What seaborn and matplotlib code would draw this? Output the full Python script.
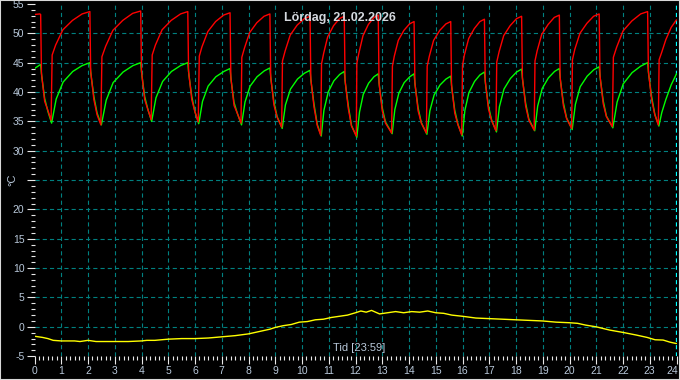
import matplotlib
matplotlib.use("Agg")
import matplotlib.pyplot as plt
import seaborn as sns
import pandas as pd
from matplotlib.ticker import MultipleLocator, FixedLocator
from matplotlib.patches import Rectangle
from matplotlib.transforms import ScaledTranslation

# ---------------- data ----------------
title_text = "Lördag, 21.02.2026"
x_label_text = "Tid [23:59]"
y_label_text = "°C"
now_hour = 23 + 59 / 60

x_ticks = list(range(0, 25))
y_ticks = list(range(-5, 56, 5))
# the 25 label is replaced by the unit label in the reference
y_tick_labels = ["-5", "0", "5", "10", "15", "20", "", "30", "35", "40", "45", "50", "55"]

# supply (red) temperature: (hour, °C)
red_points = [
    (0.00, 53.2), (0.20, 53.3),
    (0.23, 53.2), (0.26, 43.2), (0.38, 38.4), (0.50, 36.9), (0.62, 35.2),
    (0.66, 46.3), (0.79, 48.0), (1.06, 50.6), (1.42, 52.2), (1.78, 53.3),
    (2.07, 53.7), (2.10, 43.5), (2.22, 38.7), (2.34, 36.1), (2.48, 34.4),
    (2.52, 46.0), (2.66, 47.8), (2.93, 50.5), (3.30, 52.2), (3.67, 53.4),
    (3.97, 53.8), (4.00, 43.5), (4.12, 38.7), (4.24, 37.0), (4.36, 35.3),
    (4.40, 46.3), (4.52, 48.0), (4.77, 50.6), (5.11, 52.2), (5.46, 53.3),
    (5.73, 53.7), (5.76, 43.5), (5.88, 38.7), (6.00, 36.6), (6.12, 34.9),
    (6.16, 46.1), (6.26, 47.7), (6.48, 50.3), (6.77, 52.0), (7.07, 53.1),
    (7.31, 53.5), (7.34, 42.5), (7.46, 37.7), (7.58, 36.4), (7.72, 34.7),
    (7.75, 45.9), (7.85, 47.5), (8.04, 50.1), (8.31, 51.8), (8.58, 52.9),
    (8.80, 53.3), (8.83, 42.6), (8.95, 37.8), (9.07, 35.7), (9.24, 34.0),
    (9.27, 45.3), (9.37, 47.0), (9.56, 49.7), (9.82, 51.4), (10.09, 52.5),
    (10.30, 52.9), (10.33, 42.2), (10.45, 37.4), (10.57, 34.3), (10.70, 32.6),
    (10.73, 44.8), (10.81, 46.6), (10.96, 49.4), (11.18, 51.3), (11.40, 52.5),
    (11.58, 52.9), (11.61, 42.0), (11.73, 37.2), (11.85, 34.2), (12.03, 32.5),
    (12.05, 44.9), (12.13, 46.7), (12.28, 49.6), (12.48, 51.5), (12.69, 52.7),
    (12.85, 53.1), (12.88, 41.6), (13.00, 36.8), (13.12, 34.7), (13.35, 33.0),
    (13.38, 44.4), (13.45, 46.1), (13.60, 48.8), (13.81, 50.5), (14.02, 51.6),
    (14.19, 52.0), (14.22, 41.6), (14.34, 36.8), (14.46, 34.7), (14.65, 33.0),
    (14.68, 44.4), (14.76, 46.1), (14.92, 48.8), (15.15, 50.5), (15.38, 51.6),
    (15.56, 52.0), (15.59, 41.2), (15.71, 36.4), (15.83, 34.4), (15.97, 32.7),
    (16.00, 44.5), (16.07, 46.3), (16.23, 49.1), (16.44, 50.8), (16.65, 52.0),
    (16.82, 52.4), (16.85, 41.9), (16.97, 37.1), (17.09, 35.1), (17.25, 33.4),
    (17.28, 45.1), (17.37, 46.9), (17.54, 49.6), (17.78, 51.3), (18.02, 52.5),
    (18.21, 52.9), (18.24, 42.4), (18.36, 37.6), (18.48, 35.2), (18.68, 33.5),
    (18.71, 45.3), (18.79, 47.0), (18.96, 49.8), (19.20, 51.5), (19.43, 52.7),
    (19.62, 53.1), (19.65, 42.5), (19.77, 37.7), (19.89, 35.5), (20.08, 33.8),
    (20.11, 45.5), (20.20, 47.3), (20.39, 50.0), (20.65, 51.7), (20.90, 52.9),
    (21.11, 53.3), (21.14, 42.8), (21.26, 38.0), (21.38, 35.8), (21.60, 34.1),
    (21.64, 45.9), (21.76, 47.6), (22.00, 50.4), (22.33, 52.1), (22.66, 53.3),
    (22.92, 53.7), (22.95, 43.5), (23.07, 38.7), (23.19, 36.1), (23.32, 34.4),
    (23.35, 45.5), (23.45, 46.8), (23.60, 48.9), (23.80, 51.0), (24.00, 52.3),
]

# return (green) temperature: (hour, °C)
green_points = [
    (0.00, 44.0), (0.10, 44.3), (0.20, 44.6),
    (0.23, 44.7), (0.27, 42.7), (0.38, 38.9), (0.50, 36.7), (0.64, 34.7),
    (0.81, 38.8), (1.07, 41.7), (1.43, 43.5), (1.78, 44.5),
    (2.07, 45.0), (2.11, 43.0), (2.22, 39.2), (2.34, 36.4), (2.50, 34.4),
    (2.68, 38.6), (2.94, 41.6), (3.31, 43.4), (3.68, 44.5),
    (3.97, 45.0), (4.01, 43.0), (4.12, 39.2), (4.24, 37.0), (4.38, 35.0),
    (4.54, 39.0), (4.79, 41.8), (5.12, 43.5), (5.46, 44.5),
    (5.73, 45.0), (5.77, 43.0), (5.88, 39.2), (6.00, 36.6), (6.14, 34.6),
    (6.28, 38.4), (6.49, 41.0), (6.78, 42.6), (7.08, 43.5),
    (7.31, 44.0), (7.35, 42.0), (7.46, 38.2), (7.58, 36.4), (7.74, 34.4),
    (7.87, 38.3), (8.06, 41.0), (8.32, 42.6), (8.59, 43.6),
    (8.80, 44.1), (8.84, 42.1), (8.95, 38.3), (9.07, 35.8), (9.26, 33.8),
    (9.38, 37.8), (9.57, 40.5), (9.83, 42.2), (10.09, 43.2),
    (10.30, 43.7), (10.34, 41.7), (10.45, 37.9), (10.57, 34.5), (10.72, 32.5),
    (10.82, 36.9), (10.98, 40.0), (11.19, 41.9), (11.41, 43.0),
    (11.58, 43.5), (11.62, 41.5), (11.73, 37.7), (11.85, 34.3), (12.05, 32.3),
    (12.15, 36.6), (12.29, 39.6), (12.49, 41.5), (12.69, 42.6),
    (12.85, 43.1), (12.89, 41.1), (13.00, 37.3), (13.12, 34.9), (13.37, 32.9),
    (13.47, 37.0), (13.62, 39.8), (13.82, 41.6), (14.03, 42.6),
    (14.19, 43.1), (14.23, 41.1), (14.34, 37.3), (14.46, 34.8), (14.67, 32.8),
    (14.78, 36.8), (14.94, 39.5), (15.16, 41.2), (15.38, 42.2),
    (15.56, 42.7), (15.60, 40.7), (15.71, 36.9), (15.83, 34.5), (15.99, 32.5),
    (16.09, 36.9), (16.24, 39.9), (16.45, 41.8), (16.65, 42.9),
    (16.82, 43.4), (16.86, 41.4), (16.97, 37.6), (17.09, 35.2), (17.27, 33.2),
    (17.38, 37.5), (17.55, 40.5), (17.79, 42.3), (18.02, 43.4),
    (18.21, 43.9), (18.25, 41.9), (18.36, 38.1), (18.48, 35.4), (18.70, 33.4),
    (18.81, 37.6), (18.98, 40.6), (19.21, 42.4), (19.44, 43.5),
    (19.62, 44.0), (19.66, 42.0), (19.77, 38.2), (19.89, 35.6), (20.10, 33.6),
    (20.22, 37.9), (20.40, 40.9), (20.66, 42.7), (20.91, 43.8),
    (21.11, 44.3), (21.15, 42.3), (21.26, 38.5), (21.38, 35.9), (21.62, 33.9),
    (21.78, 38.3), (22.01, 41.4), (22.34, 43.3), (22.66, 44.4),
    (22.92, 45.0), (22.96, 43.0), (23.07, 39.2), (23.19, 36.2), (23.34, 34.2),
    (23.45, 36.5), (23.60, 38.7), (23.80, 41.2), (24.00, 43.1),
]

# outdoor (yellow) temperature: (hour, °C)
outdoor_points = [
    (0.0, -1.6), (0.3, -1.8), (0.5, -2.0), (0.7, -2.3), (1.0, -2.4),
    (1.5, -2.4), (1.7, -2.5), (2.0, -2.3), (2.3, -2.5), (3.0, -2.5),
    (3.5, -2.5), (4.0, -2.4), (4.2, -2.3), (4.5, -2.3), (5.0, -2.1),
    (5.5, -2.0), (6.0, -2.0), (6.5, -1.9), (7.0, -1.7), (7.5, -1.5),
    (8.0, -1.2), (8.5, -0.7), (8.8, -0.4), (9.0, -0.1), (9.3, 0.2),
    (9.6, 0.4), (9.9, 0.8), (10.2, 0.9), (10.5, 1.2), (10.8, 1.3),
    (11.1, 1.6), (11.4, 1.8), (11.7, 2.0), (12.0, 2.4), (12.2, 2.7),
    (12.4, 2.5), (12.6, 2.8), (12.9, 2.2), (13.2, 2.4), (13.5, 2.6),
    (13.8, 2.4), (14.1, 2.6), (14.4, 2.5), (14.7, 2.7), (15.0, 2.4),
    (15.3, 2.3), (15.6, 2.0), (16.0, 1.8), (16.5, 1.5), (17.0, 1.4),
    (17.5, 1.3), (18.0, 1.2), (18.5, 1.1), (19.0, 1.0), (19.5, 0.8),
    (20.0, 0.7), (20.3, 0.6), (20.6, 0.3), (21.0, 0.0), (21.5, -0.55),
    (22.0, -0.95), (22.5, -1.4), (22.9, -1.8), (23.2, -2.2), (23.5, -2.25),
    (23.75, -2.6), (24.0, -2.85),
]

# ---------------- styling ----------------
sns.set_style("dark", {"axes.facecolor": "black", "figure.facecolor": "black"})
plt.rcParams["font.family"] = ["Liberation Sans", "DejaVu Sans"]
plt.rcParams["lines.scale_dashes"] = False

label_color = "#b8c8da"
grid_color = "#008080"

fig = plt.figure(figsize=(6.8, 3.8), dpi=100, facecolor="black")
ax = fig.add_axes([34.5 / 680, (380 - 356.2) / 380, 642 / 680, 352.25 / 380])
ax.set_facecolor("black")

# grid (interior lines only)
for v in y_ticks[1:-1]:
    ax.axhline(v, color=grid_color, lw=0.8, ls=(0, (3.0, 2.2)), zorder=0)
for h in x_ticks[1:-1]:
    ax.axvline(h, color=grid_color, lw=0.8, ls=(0, (3.0, 2.2)), zorder=0)
ax.axvline(now_hour, color="#00ffff", lw=0.9, ls=(0, (3.0, 2.2)), zorder=1)

df_red = pd.DataFrame(red_points, columns=["hour", "temp"])
df_green = pd.DataFrame(green_points, columns=["hour", "temp"])
df_out = pd.DataFrame(outdoor_points, columns=["hour", "temp"])

sns.lineplot(data=df_green, x="hour", y="temp", color="#00ff00", lw=1.0,
             estimator=None, sort=False, ax=ax, zorder=3)
sns.lineplot(data=df_red, x="hour", y="temp", color="#ff0000", lw=1.0,
             estimator=None, sort=False, ax=ax, zorder=4)
sns.lineplot(data=df_out, x="hour", y="temp", color="#ffff00", lw=1.0,
             estimator=None, sort=False, ax=ax, zorder=4)

ax.set_xlim(0, 24)
ax.set_ylim(-5, 55)
ax.set_xlabel("")
ax.set_ylabel("")
for s in ax.spines.values():
    s.set_visible(False)
ax.grid(False)

ax.xaxis.set_major_locator(FixedLocator(x_ticks))
ax.set_xticklabels([str(t) for t in x_ticks])
ax.xaxis.set_minor_locator(MultipleLocator(1 / 6))
ax.yaxis.set_major_locator(FixedLocator(y_ticks))
ax.set_yticklabels(y_tick_labels)
ax.yaxis.set_minor_locator(MultipleLocator(1))

ax.tick_params(which="major", direction="out", length=5.8, width=0.8,
               color="#e8e8e8", labelcolor=label_color, labelsize=7.5, pad=1.5,
               bottom=True, left=True)
ax.tick_params(which="minor", direction="out", length=2.9, width=0.8,
               color="#e8e8e8", bottom=True, left=True)

# keep the last hour label inside the picture
last_lab = ax.get_xticklabels()[-1]
last_lab.set_transform(last_lab.get_transform()
                       + ScaledTranslation(-4.5 / 100, 0, fig.dpi_scale_trans))

# texts
fig.text(0.5, 1 - 18 / 380, title_text, ha="center", va="center",
         fontsize=9, fontweight="bold", color="#d4d8de")
ax.text(0.505, 0.022, x_label_text, transform=ax.transAxes, ha="center",
        va="center", fontsize=8, color=label_color, zorder=6)
fig.text(12 / 680, 1 - 180 / 380, y_label_text, rotation=90, ha="center",
         va="center", fontsize=8, color=label_color)

# window frame
fig.patches.append(Rectangle((0, 0), 1, 1, transform=fig.transFigure,
                             fill=False, edgecolor="#d8d8d8", lw=1.5))

fig.savefig("out.png", dpi=100, facecolor="black")
